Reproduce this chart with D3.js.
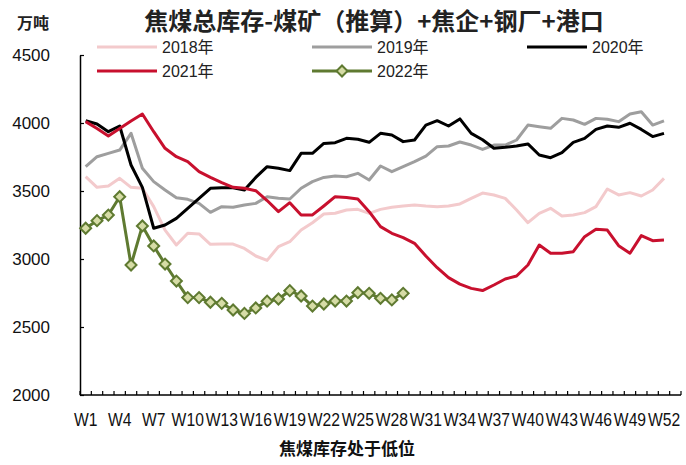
<!DOCTYPE html>
<html>
<head>
<meta charset="utf-8">
<script src="https://cdn.jsdelivr.net/npm/d3@7"></script>
<style>
  html, body { margin: 0; padding: 0; background: #fff; }
  svg { display: block; }
  text { font-family: "Liberation Sans", Arial, "Noto Sans CJK SC", sans-serif; }
  .cjk { font-family: "Noto Sans CJK SC", "Liberation Sans", sans-serif; }
</style>
</head>
<body>
<svg id="chart" width="686" height="465"></svg>
<script>
// ---- data ----
const weeks = d3.range(1, 54).map(i => "W" + i);            // 53 category slots
const tickLabels = d3.range(1, 53, 3).map(i => "W" + i);     // W1, W4, ... W52
const yTicks = [2000, 2500, 3000, 3500, 4000, 4500];
const seriesNames = ["2018年", "2019年", "2020年", "2021年", "2022年"];

const v2018 = [3605,3527,3537,3593,3527,3520,3385,3213,3103,3189,
               3184,3108,3110,3110,3078,3022,2990,3091,3127,3213,
               3267,3331,3336,3360,3365,3336,3365,3380,3390,3397,
               3390,3385,3390,3405,3446,3485,3471,3446,3360,3267,
               3336,3373,3316,3324,3341,3385,3515,3471,3488,3463,3507,3593];
const v2019 = [3679,3752,3777,3801,3924,3667,3569,3507,3451,3439,
               3409,3343,3385,3380,3397,3409,3458,3446,3441,3520,
               3569,3600,3610,3605,3630,3581,3684,3642,3679,3716,
               3757,3826,3831,3860,3838,3806,3838,3838,3875,3985,
               3973,3961,4034,4022,3990,4034,4027,4010,4066,4083,3985,4015];
const v2020 = [4017,3993,3936,3978,3691,3527,3226,3250,3299,3373,
               3446,3520,3524,3524,3507,3600,3679,3667,3650,3777,
               3777,3850,3855,3887,3880,3858,3924,3912,3863,3875,
               3985,4017,3978,4030,3924,3877,3814,3821,3831,3846,
               3765,3745,3782,3858,3887,3953,3978,3968,3998,3953,3900,3924];
const v2021 = [4010,3960,3905,3960,4015,4066,3936,3814,3752,3716,
               3642,3600,3561,3527,3520,3502,3430,3348,3414,3324,
               3324,3390,3458,3453,3441,3348,3238,3189,3157,3115,
               3022,2936,2863,2815,2784,2768,2809,2853,2875,2956,
               3103,3042,3042,3054,3164,3218,3213,3098,3042,3172,3135,3140];
const v2022 = [3226,3282,3323,3458,2956,3243,3096,2963,2838,2716,
               2716,2682,2674,2625,2600,2640,2690,2706,2767,2728,
               2654,2669,2691,2691,2752,2748,2711,2699,2748];

const colors = ["#F3CACC", "#9E9E9E", "#000000", "#C8102E", "#5F7A31"];
const seriesValues = [v2018, v2019, v2020, v2021, v2022];

// ---- layout ----
const svg = d3.select("#chart");
const pL = 80, pR = 681, pT = 55, pB = 395;

const x = d3.scaleBand().domain(weeks).range([pL, pR]).padding(0);
const y = d3.scaleLinear().domain([2000, 4500]).range([pB, pT]);

// title
svg.append("text").attr("class", "cjk")
  .attr("x", 374).attr("y", 30).attr("text-anchor", "middle")
  .attr("font-size", 24).attr("font-weight", "bold").attr("fill", "#222")
  .text("焦煤总库存-煤矿（推算）+焦企+钢厂+港口");

// unit
svg.append("text").attr("class", "cjk")
  .attr("x", 17).attr("y", 29)
  .attr("font-size", 16).attr("font-weight", "bold").attr("fill", "#222")
  .text("万吨");

// y axis
const yAxis = d3.axisLeft(y).tickValues(yTicks).tickSizeInner(-4).tickSizeOuter(0).tickPadding(30)
  .tickFormat(d3.format("d"));
const gy = svg.append("g").attr("transform", `translate(${pL},0)`).call(yAxis);
gy.select(".domain").attr("stroke", "#000").attr("stroke-width", 1.5);
gy.selectAll(".tick line").attr("stroke", "#000").attr("stroke-width", 1.2);
gy.selectAll(".tick text").attr("font-size", 17).attr("fill", "#111")
  .attr("font-family", "'Liberation Sans', Arial, sans-serif");

// x axis baseline
svg.append("line").attr("x1", pL).attr("x2", pR).attr("y1", pB).attr("y2", pB)
  .attr("stroke", "#000").attr("stroke-width", 1.5);
// boundary tick marks (inward)
const boundaries = weeks.map(w => x(w)).concat([x(weeks[weeks.length - 1]) + x.bandwidth()]);
svg.append("g").selectAll("line").data(boundaries).join("line")
  .attr("x1", d => d).attr("x2", d => d).attr("y1", pB).attr("y2", pB - 4)
  .attr("stroke", "#000").attr("stroke-width", 1.2);

// x labels via axis
const xAxis = d3.axisBottom(x).tickValues(tickLabels).tickSize(0).tickPadding(0);
const gx = svg.append("g").attr("transform", `translate(0,${pB})`).call(xAxis);
gx.select(".domain").remove();
gx.selectAll(".tick text").attr("font-size", 16).attr("fill", "#111")
  .attr("y", 0).attr("dy", 0)
  .attr("transform", "translate(0,31) scale(0.98,1.2)")
  .attr("font-family", "'Liberation Sans', Arial, sans-serif");

// lines
const line = d3.line().x((d, i) => x(weeks[i]) + x.bandwidth() / 2).y(d => y(d));
seriesValues.forEach((vals, k) => {
  svg.append("path").datum(vals)
    .attr("fill", "none").attr("stroke", colors[k]).attr("stroke-width", 3)
    .attr("stroke-linejoin", "round")
    .attr("d", line);
});

// 2022 markers
const marker = d3.symbol().type(d3.symbolSquare).size(60);
svg.append("g").selectAll("path").data(v2022).join("path")
  .attr("transform", (d, i) => `translate(${x(weeks[i]) + x.bandwidth() / 2},${y(d)}) rotate(45)`)
  .attr("d", marker)
  .attr("fill", "#D6DCA6").attr("stroke", "#5F7A31").attr("stroke-width", 2);

// legend
const legendPos = [
  {x: 97, y: 47}, {x: 312, y: 47}, {x: 527, y: 47},
  {x: 97, y: 71}, {x: 312, y: 71}
];
seriesNames.forEach((name, k) => {
  const p = legendPos[k];
  const g = svg.append("g");
  g.append("line").attr("x1", p.x).attr("x2", p.x + 60).attr("y1", p.y).attr("y2", p.y)
    .attr("stroke", colors[k]).attr("stroke-width", 3);
  if (k === 4) {
    g.append("path").attr("transform", `translate(${p.x + 30},${p.y}) rotate(45)`)
      .attr("d", marker)
      .attr("fill", "#D6DCA6").attr("stroke", "#5F7A31").attr("stroke-width", 2);
  }
  g.append("text").attr("x", p.x + 65).attr("y", p.y + 6)
    .attr("font-size", 16).attr("fill", "#222")
    .text(name);
});

// caption
svg.append("text").attr("class", "cjk")
  .attr("x", 347).attr("y", 455).attr("text-anchor", "middle")
  .attr("font-size", 17).attr("font-weight", "bold").attr("fill", "#111")
  .text("焦煤库存处于低位");
</script>
</body>
</html>
